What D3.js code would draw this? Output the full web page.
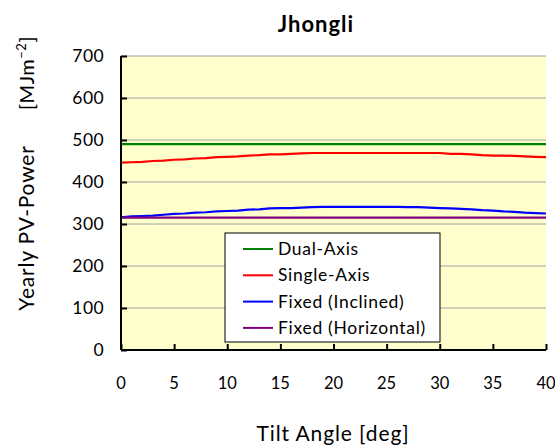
<!DOCTYPE html>
<html>
<head>
<meta charset="utf-8">
<script src="https://cdn.jsdelivr.net/npm/d3@7"></script>
<style>
  html, body { margin: 0; padding: 0; background: #fff; }
  svg text { font-family: Lato, "Open Sans", sans-serif; fill: #000; }
</style>
</head>
<body>
<svg id="chart" width="555" height="448"></svg>
<script>
// Tilt angle in degrees (x values)
const tiltAngles = d3.range(0, 41);

// Yearly PV power [MJ m^-2] for each tracking mode
const dualAxis = Array(41).fill(490);
const singleAxis = [
  446, 447, 448, 450, 451, 453, 454, 456, 457, 459,
  460, 461, 463, 464, 466, 466, 467, 468, 469, 469,
  469, 469, 469, 469, 469, 469, 469, 469, 469, 469,
  469, 467, 467, 466, 464, 463, 463, 462, 461, 460,
  459
];
const fixedInclined = [
  316, 318, 319, 320, 322, 324, 325, 327, 328, 330,
  331, 332, 334, 335, 337, 338, 338, 339, 340, 341,
  341, 341, 341, 341, 341, 341, 341, 340, 340, 339,
  338, 337, 336, 335, 333, 332, 330, 329, 327, 326,
  325
];
const fixedHorizontal = Array(41).fill(315);

const seriesNames = ["Dual-Axis", "Single-Axis", "Fixed (Inclined)", "Fixed (Horizontal)"];
const seriesColors = ["#008000", "#ff0000", "#0000ff", "#800080"];
const seriesValues = [dualAxis, singleAxis, fixedInclined, fixedHorizontal];

const xTicks = [0, 5, 10, 15, 20, 25, 30, 35, 40];
const yTicks = [0, 100, 200, 300, 400, 500, 600, 700];

const svg = d3.select("#chart");
const plot = { left: 121, right: 546, top: 56, bottom: 350 };

const x = d3.scaleLinear().domain([0, 40]).range([plot.left, plot.right]);
const y = d3.scaleLinear().domain([0, 700]).range([plot.bottom, plot.top]);

// Plot area background
svg.append("rect")
  .attr("x", plot.left).attr("y", plot.top)
  .attr("width", plot.right - plot.left).attr("height", plot.bottom - plot.top)
  .attr("fill", "#ffffcc");

// Horizontal gridlines
svg.append("g")
  .selectAll("line")
  .data(yTicks.filter(v => v > 0))
  .join("line")
  .attr("x1", plot.left).attr("x2", plot.right)
  .attr("y1", d => y(d)).attr("y2", d => y(d))
  .attr("stroke", "#a0a0a0").attr("stroke-width", 1);

// Series lines
const line = d3.line()
  .x((d, i) => x(tiltAngles[i]))
  .y(d => y(d));

svg.append("g")
  .selectAll("path")
  .data(seriesValues)
  .join("path")
  .attr("d", d => line(d))
  .attr("fill", "none")
  .attr("stroke", (d, i) => seriesColors[i])
  .attr("stroke-width", 2.2)
  .attr("stroke-linejoin", "round");

// Y axis (ticks point into the plot)
const yAxis = svg.append("g")
  .attr("transform", `translate(${plot.left},0)`)
  .call(d3.axisRight(y).tickValues(yTicks).tickSize(6).tickFormat(""));
yAxis.select(".domain").attr("stroke", "#000").attr("stroke-width", 2)
  .attr("d", `M0,${plot.top}V${plot.bottom}`);
yAxis.selectAll(".tick line").attr("stroke", "#000").attr("stroke-width", 2);

svg.append("g")
  .selectAll("text")
  .data(yTicks)
  .join("text")
  .attr("x", 104)
  .attr("y", d => y(d))
  .attr("dy", "0.36em")
  .attr("text-anchor", "end")
  .attr("font-size", 17.5)
  .attr("letter-spacing", 0.4)
  .text(d => d);

// X axis (ticks point into the plot)
const xAxis = svg.append("g")
  .attr("transform", `translate(0,${plot.bottom})`)
  .call(d3.axisTop(x).tickValues(xTicks).tickSize(6).tickFormat(""));
xAxis.select(".domain").attr("stroke", "#000").attr("stroke-width", 2)
  .attr("d", `M${plot.left},0H${plot.right}`);
xAxis.selectAll(".tick line").attr("stroke", "#000").attr("stroke-width", 2);

svg.append("g")
  .selectAll("text")
  .data(xTicks)
  .join("text")
  .attr("x", d => x(d))
  .attr("y", 389)
  .attr("text-anchor", "middle")
  .attr("font-size", 16.5)
  .text(d => d);

// Title
svg.append("text")
  .attr("x", 316).attr("y", 32)
  .attr("text-anchor", "middle")
  .attr("font-size", 22)
  .attr("font-weight", "bold")
  .attr("letter-spacing", 1)
  .text("Jhongli");

// X axis title
svg.append("text")
  .attr("x", 333).attr("y", 441)
  .attr("text-anchor", "middle")
  .attr("font-size", 21)
  .attr("letter-spacing", 0.9)
  .text("Tilt Angle [deg]");

// Y axis title
svg.append("text")
  .attr("transform", "translate(34,228) rotate(-90)")
  .attr("text-anchor", "middle")
  .attr("font-size", 21)
  .attr("letter-spacing", 0.8)
  .text("Yearly PV-Power");

const unit = svg.append("text")
  .attr("transform", "translate(34,73) rotate(-90)")
  .attr("text-anchor", "middle")
  .attr("font-size", 20)
  .attr("letter-spacing", 0.5);
unit.append("tspan").text("[MJm");
unit.append("tspan").attr("font-size", 13).attr("dy", -8).text("−2");
unit.append("tspan").attr("dy", 8).text("]");

// Legend
const legend = svg.append("g").attr("transform", "translate(225,233)");
legend.append("rect")
  .attr("width", 215).attr("height", 109)
  .attr("fill", "#fff").attr("stroke", "#000").attr("stroke-width", 1);
const rows = legend.selectAll("g.row")
  .data(seriesNames)
  .join("g")
  .attr("class", "row")
  .attr("transform", (d, i) => `translate(0,${16 + i * 26.3})`);
rows.append("line")
  .attr("x1", 18).attr("x2", 48)
  .attr("stroke", (d, i) => seriesColors[i])
  .attr("stroke-width", 2);
rows.append("text")
  .attr("x", 53).attr("dy", "0.35em")
  .attr("font-size", 17.5)
  .attr("letter-spacing", 0.7)
  .text(d => d);
</script>
</body>
</html>
